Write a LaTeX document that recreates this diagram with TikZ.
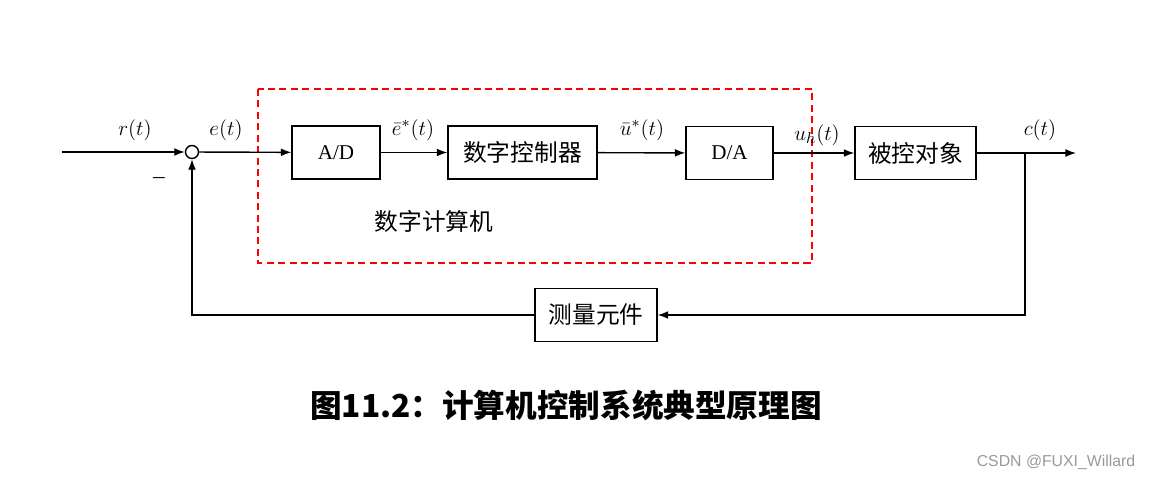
\documentclass[tikz,border=0pt]{standalone}
\usepackage{fontspec}
\usepackage{amsmath,bm}
\setmainfont{Liberation Serif}
\newfontfamily\cjk{Noto Sans CJK SC}
\newfontfamily\wm{Liberation Sans}
\usetikzlibrary{arrows.meta}
\begin{document}
\begin{tikzpicture}[x=0.02cm,y=-0.02cm,
  blk/.style={draw,thick,minimum height=1.06cm,inner sep=0pt,font=\fontsize{12}{14}\selectfont},
  cblk/.style={blk,font=\fontsize{13.5}{15}\selectfont\cjk},
  lbl/.style={font=\fontsize{13}{15}\selectfont},
  arr/.style={thick,-{Latex[length=6pt,width=4.5pt]}},
  ln/.style={thick}]
\useasboundingbox (0,0) rectangle (1151,480);
\draw[red,thick,dash pattern=on 4pt off 2.5pt] (258,89) rectangle (812,263);
\coordinate (in) at (62,152);
\node[draw,thick,circle,minimum size=0.26cm,inner sep=0pt] (sum) at (192,152) {};
\node[blk,minimum width=1.76cm] (ad) at (336,152.5) {A/D};
\node[cblk,minimum width=2.98cm] (ctl) at (522.5,152.5) {数字控制器};
\node[blk,minimum width=1.74cm] (da) at (729.5,153) {D/A};
\node[cblk,minimum width=2.42cm] (plant) at (915.5,153) {被控对象};
\node[cblk,minimum width=2.44cm] (meas) at (596,315) {测量元件};
\coordinate (br) at (1025,153);
\coordinate (out) at (1076,153);
\coordinate (bl) at (192,315);
\coordinate (brd) at (1025,315);
\draw[arr] (in) -- (sum);
\draw[arr] (sum) -- (ad);
\draw[arr] (ad) -- (ctl);
\draw[arr] (ctl) -- (da);
\draw[arr] (da) -- (plant);
\draw[arr] (plant) -- (out);
\draw[arr] (br) -- (brd) -- (meas);
\draw[arr] (meas) -- (bl) -- (sum);
\node[lbl] (rl) at (135,130) {$r(t)$};
\node[lbl] (el) at (226,130) {$e(t)$};
\node[lbl] (e2) at (413,130) {$\bar{e}^{*}(t)$};
\node[lbl] (ul) at (642,130) {$\bar{u}^{*}(t)$};
\node[lbl] (uh) at (817,135) {$u_h(t)$};
\node[lbl] (cl) at (1040,130) {$c(t)$};
\node (minus) at (159,178) {$\bm{-}$};
\node[font=\fontsize{13.5}{15}\selectfont\cjk] (dc) at (434,221) {数字计算机};
\node[font=\fontsize{18}{20}\selectfont\cjk\bfseries] (cap) at (566,405) {图11.2：计算机控制系统典型原理图};
\node[text=gray!80,font=\fontsize{9}{11}\selectfont\wm] (wm) at (1056,462) {CSDN @FUXI\_Willard};
\end{tikzpicture}
\end{document}
